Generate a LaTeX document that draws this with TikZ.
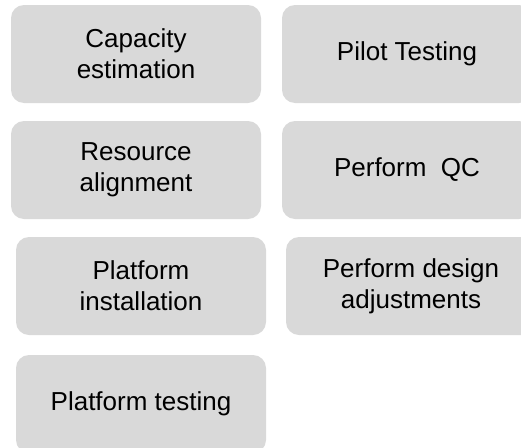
\documentclass[tikz,border=0pt]{standalone}
\usepackage{fontspec}
\setmainfont{Liberation Sans}
\begin{document}
\begin{tikzpicture}[x=1pt,y=-1pt]
\pgfmathsetlengthmacro\boxwidth{250};
\pgfmathsetlengthmacro\boxheight{98};
\definecolor{boxcolor}{RGB}{217,217,217}
\tikzset{task/.style = {fill = boxcolor, draw = none, rounded corners = 13pt, minimum width = \boxwidth, minimum height = \boxheight, inner sep = 0pt, align = center, font = \fontsize{26}{31}\selectfont}}
\useasboundingbox (0,0) rectangle (521,447);
\node[task] (capacity) at (136,54) {Capacity\\estimation};
\node[task] (pilot) at (407,54) {Pilot Testing};
\node[task] (resource) at (136,170) {Resource\\alignment};
\node[task] (qc) at (407,170) {Perform~~QC};
\node[task] (install) at (141,286) {Platform\\installation};
\node[task] (adjust) at (411,286) {Perform design\\adjustments};
\node[task] (ptest) at (141,404) {Platform testing};
\end{tikzpicture}
\end{document}
